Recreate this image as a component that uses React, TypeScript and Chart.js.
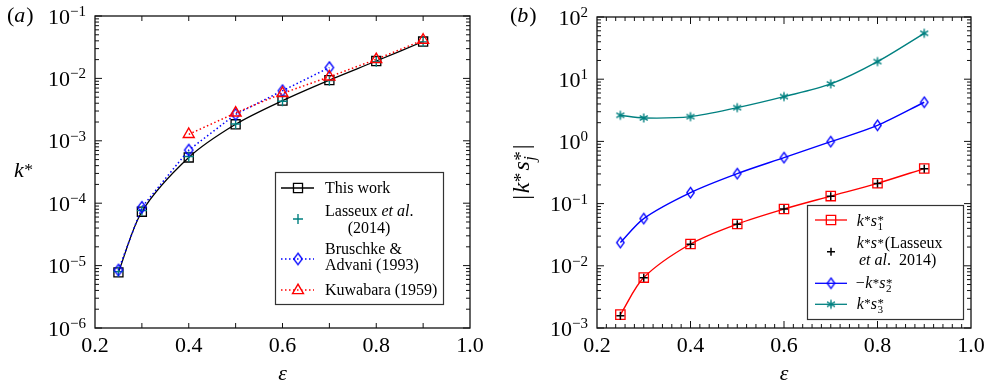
import React, { useEffect, useRef } from "react";
import { Chart, registerables } from "chart.js";
Chart.register(...registerables);

// ---------------- data ----------------
const epsilon = [0.25, 0.3, 0.4, 0.5, 0.6, 0.7, 0.8, 0.9];
const kThisWork = [7.8e-6, 7.3e-5, 5.4e-4, 1.84e-3, 4.4e-3, 9.4e-3, 1.9e-2, 3.9e-2];
const kLasseux = [8.0e-6, 7.6e-5, 5.6e-4, 1.86e-3, 4.3e-3, 9.2e-3, 1.85e-2, 3.85e-2];
const epsBruschke = [0.25, 0.3, 0.4, 0.5, 0.6, 0.7];
const kBruschke = [8.5e-6, 8.6e-5, 7.1e-4, 2.66e-3, 6.35e-3, 1.49e-2];
const epsKuwabara = [0.4, 0.5, 0.6, 0.7, 0.8, 0.9];
const kKuwabara = [1.27e-3, 2.8e-3, 5.77e-3, 1.06e-2, 2.02e-2, 4.12e-2];

const ks1 = [0.00164, 0.00646, 0.0224, 0.047, 0.0818, 0.132, 0.212, 0.366];
const ksLasseux = [0.00158, 0.0064, 0.0222, 0.0465, 0.082, 0.131, 0.21, 0.362];
const ks2 = [0.0236, 0.0574, 0.15, 0.303, 0.548, 0.99, 1.81, 4.26];
const ks3 = [2.63, 2.38, 2.5, 3.49, 5.25, 8.4, 19.2, 54.7];

const xTickValues = [0.2, 0.4, 0.6, 0.8, 1.0];
const xTickLabels = ["0.2", "0.4", "0.6", "0.8", "1.0"];
const kExponents = [-6, -5, -4, -3, -2, -1];
const ksExponents = [-3, -2, -1, 0, 1, 2];

// ---------------- styling helpers ----------------
const BLACK = "#000000";
const TEAL = "#008080";
const BLUE = "#0000ff";
const RED = "#ff0000";
const SERIF = '"Liberation Serif", "Times New Roman", Times, serif';
const fnt = (size: number, it?: boolean) => `${it ? "italic " : ""}${size}px ${SERIF}`;

type Seg = {
  t?: string;
  it?: boolean;
  size?: number;
  dy?: number;
  gap?: number;
  sup?: string;
  sub?: string;
  subIt?: boolean;
};

function segW(ctx: CanvasRenderingContext2D, s: Seg, base: number) {
  let w = 0;
  if (s.t !== undefined) {
    ctx.font = fnt(s.size ?? base, s.it);
    w = ctx.measureText(s.t).width;
  } else {
    let w1 = 0,
      w2 = 0;
    if (s.sup) {
      ctx.font = fnt(base * 0.8, false);
      w1 = ctx.measureText(s.sup).width;
    }
    if (s.sub) {
      ctx.font = fnt(base * 0.7, s.subIt);
      w2 = ctx.measureText(s.sub).width;
    }
    w = Math.max(w1, w2);
  }
  return w + (s.gap ?? 0);
}

function drawRich(
  ctx: CanvasRenderingContext2D,
  segs: Seg[],
  x: number,
  y: number,
  base: number,
  align: "left" | "right" | "center"
) {
  let total = 0;
  for (const s of segs) total += segW(ctx, s, base);
  let cx = align === "left" ? x : align === "right" ? x - total : x - total / 2;
  ctx.textAlign = "left";
  ctx.textBaseline = "alphabetic";
  for (const s of segs) {
    if (s.t !== undefined) {
      ctx.font = fnt(s.size ?? base, s.it);
      ctx.fillText(s.t, cx, y + (s.dy ?? 0));
    } else {
      if (s.sup) {
        ctx.font = fnt(base * 0.8, false);
        ctx.fillText(s.sup, cx, y - base * 0.1);
      }
      if (s.sub) {
        ctx.font = fnt(base * 0.7, s.subIt);
        ctx.fillText(s.sub, cx, y + base * 0.25);
      }
    }
    cx += segW(ctx, s, base);
  }
}

function makeDiamond(color: string, w: number, h: number, lw: number) {
  const c = document.createElement("canvas");
  c.width = Math.ceil(w + lw * 2 + 2);
  c.height = Math.ceil(h + lw * 2 + 2);
  const g = c.getContext("2d")!;
  const cx = c.width / 2,
    cy = c.height / 2;
  g.strokeStyle = color;
  g.lineWidth = lw;
  g.beginPath();
  g.moveTo(cx, cy - h / 2);
  g.lineTo(cx + w / 2, cy);
  g.lineTo(cx, cy + h / 2);
  g.lineTo(cx - w / 2, cy);
  g.closePath();
  g.stroke();
  return c;
}

function makeAsterisk(color: string, r: number, lw: number) {
  const c = document.createElement("canvas");
  const n = Math.ceil(2 * r + lw * 2 + 2);
  c.width = n;
  c.height = n;
  const g = c.getContext("2d")!;
  const cx = n / 2,
    cy = n / 2;
  g.strokeStyle = color;
  g.lineWidth = lw;
  g.beginPath();
  for (const a of [90, 30, 150]) {
    const rad = (a * Math.PI) / 180;
    g.moveTo(cx - Math.cos(rad) * r, cy - Math.sin(rad) * r);
    g.lineTo(cx + Math.cos(rad) * r, cy + Math.sin(rad) * r);
  }
  g.stroke();
  return c;
}

function drawMarker(
  ctx: CanvasRenderingContext2D,
  kind: string,
  x: number,
  y: number,
  color: string,
  r: number,
  lw: number,
  img?: HTMLCanvasElement
) {
  ctx.save();
  ctx.strokeStyle = color;
  ctx.lineWidth = lw;
  ctx.beginPath();
  if (kind === "rect") {
    const s = Math.SQRT1_2 * r;
    ctx.rect(x - s, y - s, 2 * s, 2 * s);
  } else if (kind === "cross") {
    ctx.moveTo(x - r, y);
    ctx.lineTo(x + r, y);
    ctx.moveTo(x, y - r);
    ctx.lineTo(x, y + r);
  } else if (kind === "triangle") {
    ctx.moveTo(x, y - r);
    ctx.lineTo(x + 0.866 * r, y + 0.5 * r);
    ctx.lineTo(x - 0.866 * r, y + 0.5 * r);
    ctx.closePath();
  }
  ctx.stroke();
  if (kind === "image" && img) {
    ctx.drawImage(img, x - img.width / 2, y - img.height / 2);
  }
  ctx.restore();
}

function legendLine(ctx: CanvasRenderingContext2D, x1: number, x2: number, y: number, color: string, lw: number, dash: number[]) {
  ctx.save();
  ctx.strokeStyle = color;
  ctx.lineWidth = lw;
  ctx.setLineDash(dash);
  ctx.beginPath();
  ctx.moveTo(x1, y);
  ctx.lineTo(x2, y);
  ctx.stroke();
  ctx.restore();
}

const expStr = (d: number) => (d < 0 ? "\u2212" + Math.abs(d) : String(d));

function drawFrame(
  chart: any,
  exps: number[],
  xMinor: number[],
  xMinorLen: number,
  xMajor: number[],
  xMajorLen: number
) {
  const ctx: CanvasRenderingContext2D = chart.ctx;
  const { left, right, top, bottom } = chart.chartArea;
  const xs = chart.scales.x,
    ys = chart.scales.y;
  ctx.save();
  ctx.strokeStyle = "#111";
  ctx.lineWidth = 1;
  ctx.beginPath();
  const tk = (x1: number, y1: number, x2: number, y2: number) => {
    ctx.moveTo(x1, y1);
    ctx.lineTo(x2, y2);
  };
  for (let i = 0; i < exps.length; i++) {
    const d = exps[i];
    const y = ys.getPixelForValue(Math.pow(10, d));
    tk(left, y, left + 7, y);
    tk(right, y, right - 7, y);
    if (i < exps.length - 1) {
      for (let m = 2; m <= 9; m++) {
        const ym = ys.getPixelForValue(m * Math.pow(10, d));
        tk(left, ym, left + 4, ym);
        tk(right, ym, right - 4, ym);
      }
    }
  }
  for (const v of xMinor) {
    const x = xs.getPixelForValue(v);
    tk(x, bottom, x, bottom - xMinorLen);
    tk(x, top, x, top + xMinorLen);
  }
  for (const v of xMajor) {
    const x = xs.getPixelForValue(v);
    tk(x, bottom, x, bottom - xMajorLen);
    tk(x, top, x, top + xMajorLen);
  }
  ctx.stroke();
  ctx.lineWidth = 1.3;
  ctx.strokeRect(left, top, right - left, bottom - top);

  // tick labels
  ctx.fillStyle = "#000";
  for (const d of exps) {
    const y = ys.getPixelForValue(Math.pow(10, d));
    drawRich(ctx, [{ t: "10" }, { t: expStr(d), size: 15, dy: -7.5 }], left - 9, y + 7.5, 22, "right");
  }
  ctx.textBaseline = "alphabetic";
  xTickValues.forEach((v, i) => {
    ctx.font = fnt(22);
    ctx.textAlign = "center";
    ctx.fillText(xTickLabels[i], xs.getPixelForValue(v), bottom + 24);
  });
  ctx.font = fnt(22, true);
  ctx.textAlign = "center";
  ctx.fillText("\u03b5", (left + right) / 2, 380);
  ctx.restore();
}

// ---------------- panels ----------------
function buildA(canvas: HTMLCanvasElement) {
  const diamond = makeDiamond(BLUE, 8.5, 11.5, 1.3);
  const xMinor = [0.3, 0.4, 0.5, 0.6, 0.7, 0.8, 0.9];
  const plugin = {
    id: "frameA",
    afterDraw(chart: any) {
      const ctx: CanvasRenderingContext2D = chart.ctx;
      drawFrame(chart, kExponents, xMinor, 5, [], 5);
      ctx.save();
      ctx.fillStyle = "#000";
      drawRich(ctx, [{ t: "(" }, { t: "a", it: true, gap: 1 }, { t: ")" }], 7, 22, 22, "left");
      drawRich(ctx, [{ t: "k", it: true, gap: 0.5 }, { sup: "*" }], 14, 177, 22, "left");
      // legend
      ctx.fillStyle = "#fff";
      ctx.fillRect(275.5, 172.5, 168, 132);
      ctx.strokeStyle = "#333";
      ctx.lineWidth = 1.2;
      ctx.strokeRect(275.5, 172.5, 168, 132);
      legendLine(ctx, 281, 314, 188, BLACK, 1.3, []);
      drawMarker(ctx, "rect", 298, 188, BLACK, 6.4, 1.3);
      drawMarker(ctx, "cross", 298, 219, TEAL, 5, 1.4);
      legendLine(ctx, 281, 314, 259, BLUE, 1.5, [1.5, 2.5]);
      drawMarker(ctx, "image", 298, 259, BLUE, 0, 1, diamond);
      legendLine(ctx, 281, 314, 290, RED, 1.5, [1.5, 2.5]);
      drawMarker(ctx, "triangle", 298, 290.5, RED, 6.3, 1.4);
      ctx.fillStyle = "#000";
      drawRich(ctx, [{ t: "This work" }], 325, 193.3, 16, "left");
      drawRich(ctx, [{ t: "Lasseux " }, { t: "et al", it: true }, { t: "." }], 325, 216, 16, "left");
      drawRich(ctx, [{ t: "(2014)" }], 369, 232.5, 16, "center");
      drawRich(ctx, [{ t: "Bruschke &" }], 325, 253.5, 16, "left");
      drawRich(ctx, [{ t: "Advani (1993)" }], 325, 270, 16, "left");
      drawRich(ctx, [{ t: "Kuwabara (1959)" }], 325, 294.5, 16, "left");
      ctx.restore();
    },
  };
  return new Chart(canvas, {
    type: "line",
    data: {
      datasets: [
        {
          label: "Kuwabara (1959)",
          data: epsKuwabara.map((x, i) => ({ x, y: kKuwabara[i] })),
          borderColor: RED,
          borderWidth: 1.5,
          borderDash: [1.5, 2.5],
          tension: 0,
          pointStyle: "triangle",
          pointRadius: 6.3,
          pointBorderColor: RED,
          pointBackgroundColor: "rgba(0,0,0,0)",
          pointBorderWidth: 1.4,
        },
        {
          label: "Bruschke & Advani (1993)",
          data: epsBruschke.map((x, i) => ({ x, y: kBruschke[i] })),
          borderColor: BLUE,
          borderWidth: 1.5,
          borderDash: [1.5, 2.5],
          tension: 0,
          pointStyle: diamond,
          pointRadius: 6,
        },
        {
          label: "Lasseux et al. (2014)",
          data: epsilon.map((x, i) => ({ x, y: kLasseux[i] })),
          showLine: false,
          pointStyle: "cross",
          pointRadius: 5,
          pointBorderColor: TEAL,
          pointBorderWidth: 1.4,
        },
        {
          label: "This work",
          data: epsilon.map((x, i) => ({ x, y: kThisWork[i] })),
          borderColor: BLACK,
          borderWidth: 1.3,
          tension: 0.3,
          pointStyle: "rect",
          pointRadius: 6.4,
          pointBorderColor: BLACK,
          pointBackgroundColor: "rgba(0,0,0,0)",
          pointBorderWidth: 1.3,
        },
      ],
    } as any,
    options: {
      responsive: false,
      animation: false,
      events: [],
      layout: { padding: { left: 95, top: 16, right: 24, bottom: 57 } },
      scales: {
        x: { type: "linear", min: 0.2, max: 1.0, display: false },
        y: { type: "logarithmic", min: 1e-6, max: 1e-1, display: false },
      },
      plugins: { legend: { display: false }, tooltip: { enabled: false } },
    } as any,
    plugins: [plugin],
  });
}

function buildB(canvas: HTMLCanvasElement) {
  const OX = 494;
  const diamond = makeDiamond(BLUE, 7.5, 10.5, 1.3);
  const asterisk = makeAsterisk(TEAL, 4.6, 1.4);
  const xMinor: number[] = [];
  const xMajor = [0.4, 0.6, 0.8];
  for (let i = 11; i < 50; i++) {
    if (i % 10 !== 0) xMinor.push(i * 0.02);
  }
  const plugin = {
    id: "frameB",
    afterDraw(chart: any) {
      const ctx: CanvasRenderingContext2D = chart.ctx;
      drawFrame(chart, ksExponents, xMinor, 4, xMajor, 7);
      ctx.save();
      ctx.fillStyle = "#000";
      drawRich(ctx, [{ t: "(" }, { t: "b", it: true, gap: 1 }, { t: ")" }], 510 - OX, 22, 22, "left");
      ctx.save();
      ctx.translate(529 - OX, 172);
      ctx.rotate(-Math.PI / 2);
      drawRich(
        ctx,
        [
          { t: "|", gap: 1.5 },
          { t: "k", it: true, gap: 0.5 },
          { sup: "*", gap: 2 },
          { t: "s", it: true, gap: 0.5 },
          { sup: "*", sub: "j", subIt: true, gap: 2 },
          { t: "|" },
        ],
        0,
        0,
        24,
        "center"
      );
      ctx.restore();
      // legend
      const bx = 807.5 - OX;
      ctx.fillStyle = "#fff";
      ctx.fillRect(bx, 205.5, 156, 114);
      ctx.strokeStyle = "#333";
      ctx.lineWidth = 1.2;
      ctx.strokeRect(bx, 205.5, 156, 114);
      const lx1 = 815 - OX,
        lx2 = 847 - OX,
        mx = 831 - OX,
        tx = 856.7 - OX;
      legendLine(ctx, lx1, lx2, 220, RED, 1.3, []);
      drawMarker(ctx, "rect", mx, 220, RED, 6.6, 1.3);
      drawMarker(ctx, "cross", mx, 251.7, BLACK, 4, 1.5);
      legendLine(ctx, lx1, lx2, 283.3, BLUE, 1.3, []);
      drawMarker(ctx, "image", mx, 283.3, BLUE, 0, 1, diamond);
      legendLine(ctx, lx1, lx2, 304.3, TEAL, 1.3, []);
      drawMarker(ctx, "image", mx, 304.3, TEAL, 0, 1, asterisk);
      ctx.fillStyle = "#000";
      drawRich(
        ctx,
        [{ t: "k", it: true, gap: 0.5 }, { sup: "*" }, { t: "s", it: true, gap: 0.5 }, { sup: "*", sub: "1" }],
        tx,
        225.7,
        16,
        "left"
      );
      drawRich(
        ctx,
        [{ t: "k", it: true, gap: 0.5 }, { sup: "*" }, { t: "s", it: true, gap: 0.5 }, { sup: "*", gap: 1 }, { t: "(Lasseux" }],
        tx,
        248.3,
        16,
        "left"
      );
      drawRich(ctx, [{ t: "et", it: true, gap: 4 }, { t: "al", it: true }, { t: ".", gap: 4 }, { t: " 2014)" }], 859 - OX, 265, 16, "left");
      drawRich(
        ctx,
        [{ t: "\u2212", gap: 0.5 }, { t: "k", it: true, gap: 0.5 }, { sup: "*" }, { t: "s", it: true, gap: 0.5 }, { sup: "*", sub: "2" }],
        tx - 1,
        288.3,
        16,
        "left"
      );
      drawRich(
        ctx,
        [{ t: "k", it: true, gap: 0.5 }, { sup: "*" }, { t: "s", it: true, gap: 0.5 }, { sup: "*", sub: "3" }],
        tx,
        309,
        16,
        "left"
      );
      ctx.restore();
    },
  };
  return new Chart(canvas, {
    type: "line",
    data: {
      datasets: [
        {
          label: "k*s* (Lasseux et al. 2014)",
          data: epsilon.map((x, i) => ({ x, y: ksLasseux[i] })),
          showLine: false,
          pointStyle: "cross",
          pointRadius: 4,
          pointBorderColor: BLACK,
          pointBorderWidth: 1.5,
        },
        {
          label: "k*s1*",
          data: epsilon.map((x, i) => ({ x, y: ks1[i] })),
          borderColor: RED,
          borderWidth: 1.4,
          tension: 0.3,
          pointStyle: "rect",
          pointRadius: 6.6,
          pointBorderColor: RED,
          pointBackgroundColor: "rgba(0,0,0,0)",
          pointBorderWidth: 1.3,
        },
        {
          label: "-k*s2*",
          data: epsilon.map((x, i) => ({ x, y: ks2[i] })),
          borderColor: BLUE,
          borderWidth: 1.4,
          tension: 0.3,
          pointStyle: diamond,
          pointRadius: 6,
        },
        {
          label: "k*s3*",
          data: epsilon.map((x, i) => ({ x, y: ks3[i] })),
          borderColor: TEAL,
          borderWidth: 1.4,
          tension: 0.3,
          pointStyle: asterisk,
          pointRadius: 5,
        },
      ],
    } as any,
    options: {
      responsive: false,
      animation: false,
      events: [],
      layout: { padding: { left: 103, top: 17, right: 18, bottom: 57 } },
      scales: {
        x: { type: "linear", min: 0.2, max: 1.0, display: false },
        y: { type: "logarithmic", min: 1e-3, max: 1e2, display: false },
      },
      plugins: { legend: { display: false }, tooltip: { enabled: false } },
    } as any,
    plugins: [plugin],
  });
}

function Panel({ left, width, build }: { left: number; width: number; build: (c: HTMLCanvasElement) => Chart }) {
  const ref = useRef<HTMLCanvasElement>(null);
  useEffect(() => {
    let chart: Chart | null = null;
    let cancelled = false;
    const fontsReady = Promise.all([
      document.fonts.load('22px "Liberation Serif"'),
      document.fonts.load('italic 22px "Liberation Serif"'),
    ]).catch(() => null);
    fontsReady.then(() => {
      if (cancelled || !ref.current) return;
      chart = build(ref.current);
    });
    return () => {
      cancelled = true;
      if (chart) chart.destroy();
    };
  }, []);
  return (
    <canvas
      ref={ref}
      width={width}
      height={385}
      style={{ position: "absolute", left, top: 0, width, height: 385, display: "block" }}
    />
  );
}

export default function App() {
  return (
    <div style={{ position: "absolute", left: 0, top: 0, width: 989, height: 385, background: "#fff", overflow: "hidden" }}>
      <Panel left={0} width={494} build={buildA} />
      <Panel left={494} width={495} build={buildB} />
    </div>
  );
}
